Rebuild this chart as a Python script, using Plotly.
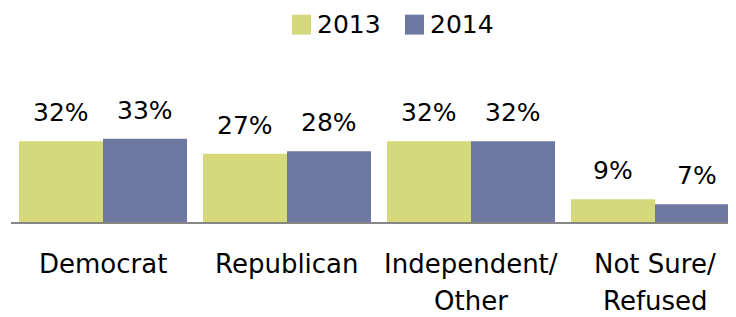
import plotly.graph_objects as go

categories = ["Democrat", "Republican", "Independent/<br>Other", "Not Sure/<br>Refused"]
series_names = ["2013", "2014"]
values_2013 = [32, 27, 32, 9]
values_2014 = [33, 28, 32, 7]

colors = {"2013": "#d5d97c", "2014": "#6f78a0"}
FONT = "DejaVu Sans"

# plot-area geometry (figure pixels; page adds an 8px body margin)
L, T, PW, PH = 3, 41.5, 733, 173
H = 317

def px_x(fx):
    return (fx - L) / PW

def px_y(fy):
    return 1 - (fy - T) / PH

fig = go.Figure()
for name, vals in zip(series_names, [values_2013, values_2014]):
    fig.add_trace(go.Bar(
        name=name, x=list(range(len(categories))), y=vals,
        marker=dict(color=colors[name], line=dict(width=0)),
        showlegend=False,
    ))

annotations = []
for si, (name, vals) in enumerate(zip(series_names, [values_2013, values_2014])):
    xs = -42 if si == 0 else 42
    for ci, v in enumerate(vals):
        annotations.append(dict(
            x=ci, y=v, xref="x", yref="y", text=f"{v}%", showarrow=False,
            xshift=xs, yanchor="bottom", yshift=12,
            font=dict(family=FONT, size=25, color="#000000"),
        ))

for ci, cat in enumerate(categories):
    for li, line in enumerate(cat.split("<br>")):
        annotations.append(dict(
            x=ci, y=0, xref="x", yref="paper", text=line, showarrow=False,
            yanchor="middle", yshift=-42 - 37 * li,
            font=dict(family=FONT, size=26, color="#000000"),
        ))

# manual legend (large square swatches)
shapes = []
legend_swatch_x = [284, 397]
for name, sx in zip(series_names, legend_swatch_x):
    shapes.append(dict(
        type="rect", xref="paper", yref="paper",
        x0=px_x(sx), x1=px_x(sx + 19), y0=px_y(26), y1=px_y(6),
        fillcolor=colors[name], line=dict(width=0),
    ))
    annotations.append(dict(
        x=px_x(sx + 23), y=px_y(16), xref="paper", yref="paper",
        xanchor="left", yanchor="middle", text=name, showarrow=False,
        font=dict(family=FONT, size=25, color="#000000"),
    ))

fig.update_layout(
    width=736, height=H,
    margin=dict(l=L, r=0, t=T, b=H - T - PH, autoexpand=False),
    paper_bgcolor="white", plot_bgcolor="white",
    barmode="group", bargap=0.087, bargroupgap=0,
    font=dict(family=FONT, size=25, color="#000000"),
    xaxis=dict(range=[-0.5, -0.5 + PW / 184], showticklabels=False, showgrid=False,
               zeroline=False, showline=True, linecolor="#868686", linewidth=2,
               ticks="", fixedrange=True),
    yaxis=dict(range=[0, PH / 2.54], visible=False, showgrid=False, zeroline=False),
    showlegend=False,
    annotations=annotations,
    shapes=shapes,
)

fig.write_html("out.html")
